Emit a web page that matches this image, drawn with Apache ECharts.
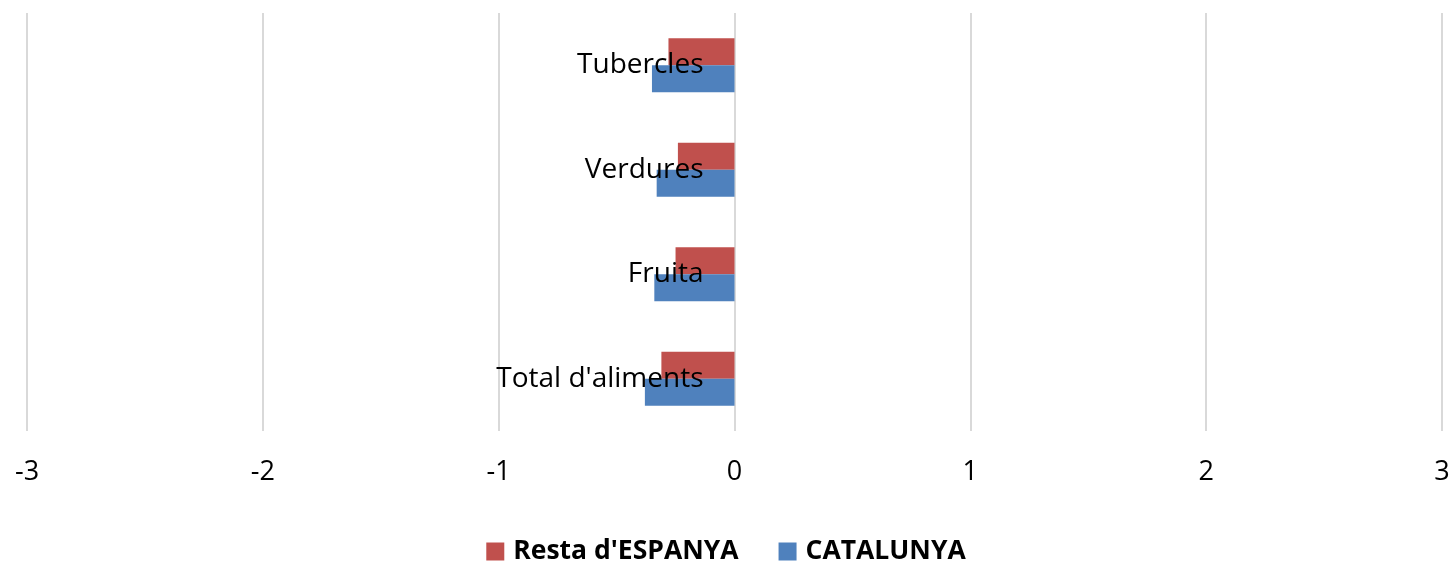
<!DOCTYPE html>
<html>
<head>
<meta charset="utf-8">
<script src="https://cdn.jsdelivr.net/npm/echarts@6/dist/echarts.min.js"></script>
<style>
  html, body { margin: 0; padding: 0; background: #fff; }
  #chart { width: 1452px; height: 562px; }
</style>
</head>
<body>
<div id="chart"></div>
<script>
const categories = ["Total d'aliments", "Fruita", "Verdures", "Tubercles"];
const catalunya = [-0.38, -0.34, -0.33, -0.35];
const restaEspanya = [-0.31, -0.25, -0.24, -0.28];
const xTicks = { min: -3, max: 3, interval: 1 };

const chart = echarts.init(document.getElementById("chart"));
const font = "Open Sans";

// grid spans -3..3, the category labels sit at the 0 line
const gridLeft = 27, gridRight = 10;
const plotW = 1452 - gridLeft - gridRight;
const zeroOffset = plotW * (0 - xTicks.min) / (xTicks.max - xTicks.min);

chart.setOption({
  animation: false,
  grid: { left: gridLeft, right: gridRight, top: 13, bottom: 131, outerBoundsMode: "none", containLabel: false },
  xAxis: {
    type: "value",
    min: xTicks.min,
    max: xTicks.max,
    interval: xTicks.interval,
    axisLine: { show: false },
    axisTick: { show: false },
    splitLine: { lineStyle: { color: "#d9d9d9", width: 2 } },
    axisLabel: { fontFamily: font, fontSize: 27, color: "#000", margin: 28 },
  },
  yAxis: {
    type: "category",
    data: categories,
    z: 10,
    offset: -zeroOffset,
    axisLine: { show: false, onZero: false },
    axisTick: { show: false },
    axisLabel: { fontFamily: font, fontSize: 28, color: "#000", margin: 31 },
  },
  legend: {
    data: ["Resta d'ESPANYA", "CATALUNYA"],
    left: "center",
    top: 533,
    icon: "rect",
    itemWidth: 18,
    itemHeight: 18,
    itemGap: 40,
    textStyle: { fontFamily: font, fontSize: 26.5, fontWeight: "bold", color: "#000", padding: [0, 0, 0, 4] },
  },
  series: [
    {
      type: "bar",
      name: "Resta d'ESPANYA",
      data: restaEspanya,
      barWidth: 27,
      barGap: "0%",
      itemStyle: { color: "#C0504D" },
    },
    {
      type: "bar",
      name: "CATALUNYA",
      data: catalunya,
      barWidth: 27,
      barGap: "0%",
      itemStyle: { color: "#4F81BD" },
    },
  ],
});
</script>
</body>
</html>
